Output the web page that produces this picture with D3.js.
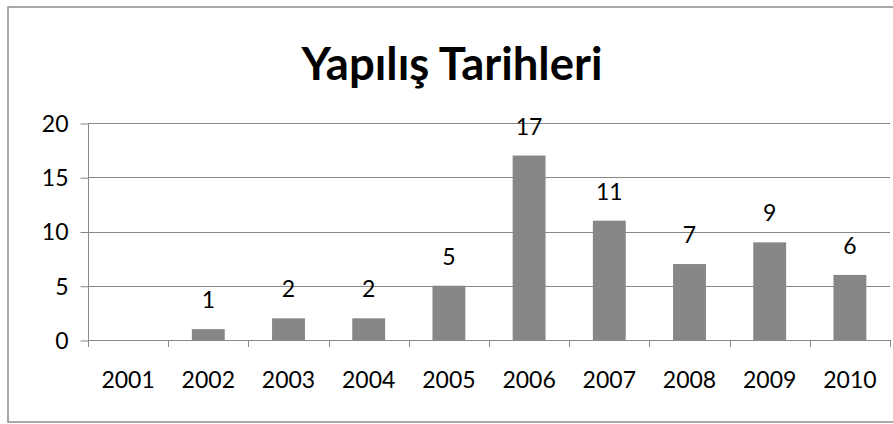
<!DOCTYPE html>
<html><head><meta charset="utf-8">
<script src="https://cdn.jsdelivr.net/npm/d3@7"></script>
<style>body{margin:0;background:#fff}svg{display:block}text{font-family:Lato,"Open Sans",sans-serif}</style>
</head><body>
<svg id="c" width="893" height="424"></svg>
<script>
const title = "Yapılış Tarihleri";
const categories = ["2001","2002","2003","2004","2005","2006","2007","2008","2009","2010"];
const values = [0,1,2,2,5,17,11,7,9,6];
const yTicks = [0,5,10,15,20];

const svg = d3.select("#c");
const W = 893, H = 424;
const m = {left: 88, right: 3, top: 123, bottom: 84};
const x = d3.scaleBand().domain(categories).range([m.left, W - m.right]).paddingInner(0.59).paddingOuter(0.295);
const y = d3.scaleLinear().domain([0, 20]).range([H - m.bottom, m.top]);
const grey = "#878787";
const FS = 23;

// outer border
svg.append("rect").attr("x", 8).attr("y", 7).attr("width", 900).attr("height", 415)
  .attr("fill", "none").attr("stroke", "#939393").attr("stroke-width", 1.6);

// gridlines
svg.append("g").selectAll("line").data(yTicks.filter(d => d > 0)).join("line")
  .attr("x1", m.left).attr("x2", W - m.right)
  .attr("y1", d => Math.round(y(d)) + 0.5).attr("y2", d => Math.round(y(d)) + 0.5)
  .attr("stroke", grey).attr("stroke-width", 1);

// y axis
const ya = svg.append("g").attr("transform", `translate(${m.left + 0.5},0)`)
  .call(d3.axisLeft(y).tickValues(yTicks).tickSize(8).tickPadding(12).tickSizeOuter(0));
ya.select(".domain").remove();
ya.selectAll(".tick line").attr("stroke", grey).attr("transform", "translate(0,0.5)");
ya.selectAll(".tick text").attr("font-size", FS).attr("font-family", "Lato").attr("fill", "#000").attr("dy", "0.36em");
svg.append("line").attr("x1", m.left + 0.5).attr("x2", m.left + 0.5)
  .attr("y1", y(20)).attr("y2", y(0) + 7).attr("stroke", grey);

// bars
svg.append("g").selectAll("rect").data(values).join("rect")
  .attr("x", (d, i) => x(categories[i])).attr("width", x.bandwidth())
  .attr("y", d => y(d)).attr("height", d => y(0) - y(d))
  .attr("fill", "#878787");

// x axis line and ticks at band boundaries
const step = x.step();
const start = x(categories[0]) - (step - x.bandwidth()) / 2;
svg.append("line").attr("x1", m.left).attr("x2", W - m.right)
  .attr("y1", Math.round(y(0)) + 0.5).attr("y2", Math.round(y(0)) + 0.5).attr("stroke", grey);
svg.append("g").selectAll("line").data(d3.range(categories.length + 1)).join("line")
  .attr("x1", i => Math.round(start + i * step) + 0.5)
  .attr("x2", i => Math.round(start + i * step) + 0.5)
  .attr("y1", y(0)).attr("y2", y(0) + 7).attr("stroke", grey);

// x labels
svg.append("g").selectAll("text").data(categories).join("text")
  .attr("x", d => x(d) + x.bandwidth() / 2).attr("y", 388)
  .attr("text-anchor", "middle").attr("font-size", FS).attr("fill", "#000").text(d => d);

// data labels
svg.append("g").selectAll("text").data(values.map((v, i) => ({v, c: categories[i]})).filter(d => d.v > 0)).join("text")
  .attr("x", d => x(d.c) + x.bandwidth() / 2).attr("y", d => y(d.v) - 21)
  .attr("text-anchor", "middle").attr("font-size", FS).attr("fill", "#000").text(d => d.v);

// title
const t = svg.append("text").attr("x", 452).attr("y", 80).attr("text-anchor", "middle")
  .attr("font-weight", "bold").attr("font-size", 40).attr("fill", "#000").text(title);
const w = t.node().getComputedTextLength();
t.attr("font-size", 40 * 301 / w);
</script>
</body></html>
